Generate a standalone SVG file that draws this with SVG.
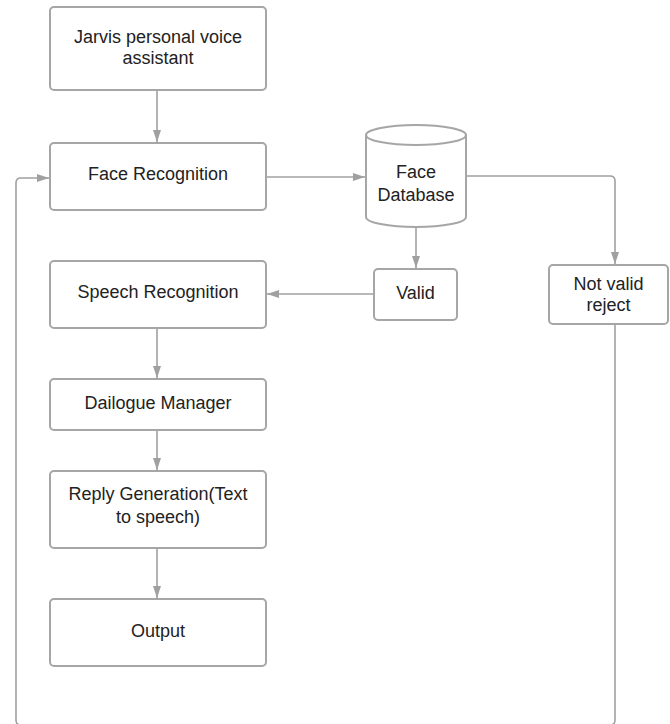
<svg xmlns="http://www.w3.org/2000/svg" width="670" height="724" viewBox="0 0 670 724">
<style>
.box{fill:#fff;stroke:#a6a6a6;stroke-width:2}
.t{font-family:"Liberation Sans",Arial,sans-serif;font-size:18px;fill:#222;text-anchor:middle}
.c{fill:none;stroke:#a0a0a0;stroke-width:1.6}
</style>
<defs>
<marker id="ah" viewBox="0 0 12 10" refX="12" refY="5" markerWidth="12" markerHeight="10" markerUnits="userSpaceOnUse" orient="auto">
<path d="M0,1 L12,5 L0,9 Z" fill="#a0a0a0"/>
</marker>
</defs>
<rect width="670" height="724" fill="#fff"/>
<g id="connectors">
<path class="c" d="M157,91 V142" marker-end="url(#ah)"/>
<path class="c" d="M267,177 H365" marker-end="url(#ah)"/>
<path class="c" d="M416,228 V268" marker-end="url(#ah)"/>
<path class="c" d="M467,176 H610 Q615,176 615,181 V264" marker-end="url(#ah)"/>
<path class="c" d="M373,294 H267" marker-end="url(#ah)"/>
<path class="c" d="M157,329 V378" marker-end="url(#ah)"/>
<path class="c" d="M157,431 V470" marker-end="url(#ah)"/>
<path class="c" d="M157,549 V598" marker-end="url(#ah)"/>
<path class="c" d="M615,325 V720 Q615,725 610,725 H21 Q16,725 16,720 V183 Q16,178 21,178 H49" marker-end="url(#ah)"/>
</g>
<g id="jarvis">
<rect class="box" x="50" y="7" width="216" height="83" rx="4"/>
<text class="t" x="158" y="43">Jarvis personal voice</text>
<text class="t" x="158" y="64">assistant</text>
</g>
<g id="face-recognition">
<rect class="box" x="50" y="143" width="216" height="67" rx="4"/>
<text class="t" x="158" y="180">Face Recognition</text>
</g>
<g id="face-database">
<path class="box" d="M366,135 A50,10 0 0 1 466,135 V217 A50,10 0 0 1 366,217 Z"/>
<path class="box" d="M366,135 A50,10 0 0 0 466,135" fill="none"/>
<text class="t" x="416" y="178">Face</text>
<text class="t" x="416" y="201">Database</text>
</g>
<g id="valid">
<rect class="box" x="374" y="269" width="83" height="51" rx="4"/>
<text class="t" x="415.5" y="299">Valid</text>
</g>
<g id="not-valid">
<rect class="box" x="549" y="265" width="119" height="59" rx="4"/>
<text class="t" x="608.5" y="290">Not valid</text>
<text class="t" x="608.5" y="311">reject</text>
</g>
<g id="speech-recognition">
<rect class="box" x="50" y="261" width="216" height="67" rx="4"/>
<text class="t" x="158" y="298">Speech Recognition</text>
</g>
<g id="dialogue-manager">
<rect class="box" x="50" y="379" width="216" height="51" rx="4"/>
<text class="t" x="158" y="409">Dailogue Manager</text>
</g>
<g id="reply-generation">
<rect class="box" x="50" y="471" width="216" height="77" rx="4"/>
<text class="t" x="158" y="500">Reply Generation(Text</text>
<text class="t" x="158" y="523">to speech)</text>
</g>
<g id="output">
<rect class="box" x="50" y="599" width="216" height="67" rx="4"/>
<text class="t" x="158" y="637">Output</text>
</g>
</svg>
